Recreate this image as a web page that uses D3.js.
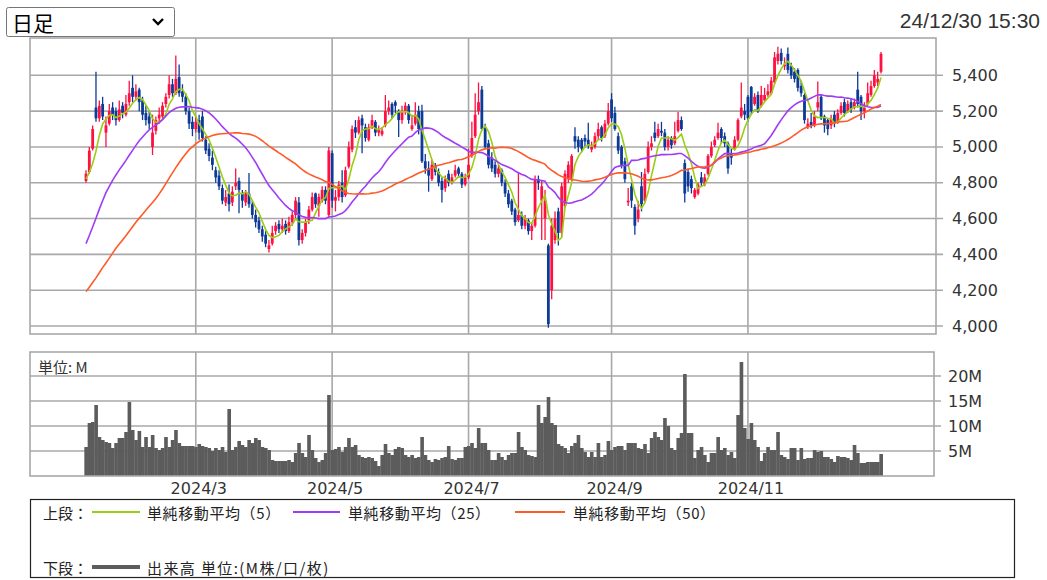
<!DOCTYPE html>
<html><head><meta charset="utf-8">
<script src="https://cdn.jsdelivr.net/npm/d3@7"></script>
<style>html,body{margin:0;padding:0;background:#fff;} svg{display:block}</style>
</head><body><svg id="c" width="1047" height="580"></svg>
<script>
// ---------- DATA ----------
const periodLabel = "日足";
const timestamp = "24/12/30 15:30";
const startDate = "2024-01-12";
const endDate = "2024-12-30";
const holidays = ["2024-02-12","2024-02-23","2024-03-20","2024-04-29","2024-05-03","2024-05-06",
  "2024-07-15","2024-08-12","2024-09-16","2024-09-23","2024-10-14","2024-11-04"];
// closes before the first visible day (only feed the moving averages)
const priorCloses = [3750,3800,3850,3800,3750,3800,3850,3800,3800,
  4000,4050,4100,4050,4000,4050,4100,
  4100,4050,4000,4050,4000,
  3900,3850,3800,3800,3850,
  3900,3950,3950,4000,4000,
  4300,4350,4400,4500,
  4550,4560,4580,4600,4610,
  4620,4630,4640,4650,
  4750,4800,4850,4820,4790];
const opens = [
4810,4860,4990,5220,5160,5240,5080,5130,5220,5200,
5150,5230,5180,5250,5330,5280,5320,5260,5190,5170,
5000,5090,5160,5170,5240,5290,5350,5300,5390,5310,
5280,5200,5140,5100,5150,5170,5040,4990,4940,4870,
4840,4770,4690,4740,4690,4780,4810,4740,4690,4740,
4680,4620,4590,4540,4510,4430,4460,4530,4570,4540,
4570,4530,4580,4620,4690,4480,4520,4590,4650,4740,
4670,4700,4760,4620,4965,4700,4720,4800,4730,4890,
4985,5110,5080,5160,5110,5040,5110,5140,5080,5070,
5120,5200,5240,5250,5200,5150,5200,5230,5100,5130,
5200,5200,4920,4880,4820,4900,4860,4810,4770,4850,
4800,4840,4880,4850,4790,4830,4950,5060,5200,5320,
5110,5020,4940,4900,4850,4870,4800,4740,4700,4650,
4590,4620,4560,4590,4530,4560,4820,4700,4600,4450,
4200,4480,4640,4520,4670,4820,4820,5060,5040,5040,
5050,5040,4985,5000,5060,5110,5060,5130,5265,5190,
5060,5000,4920,4690,4780,4665,4600,4780,4700,4860,
5000,5080,5060,5090,5080,5000,5050,5020,5090,5150,
4910,4860,4820,4720,4740,4830,4790,4850,4950,5010,
5050,5100,5060,5020,4960,4990,5040,5170,5200,5280,
5335,5240,5290,5230,5260,5290,5300,5360,5480,5525,
5450,5520,5450,5420,5430,5340,5290,5110,5140,5120,
5220,5280,5170,5150,5120,5180,5140,5190,5250,5200,
5250,5220,5320,5280,5200,5240,5290,5340,5360,5420];
const highs = [
4870,5000,5120,5420,5260,5280,5170,5240,5250,5220,
5260,5250,5290,5370,5400,5350,5330,5280,5230,5200,
5180,5170,5220,5250,5300,5400,5380,5510,5460,5350,
5300,5220,5170,5170,5180,5200,5060,5020,4980,4890,
4870,4790,4760,4790,4780,4880,4830,4760,4760,4855,
4700,4650,4610,4560,4530,4480,4560,4580,4590,4600,
4590,4610,4640,4720,4720,4540,4600,4670,4745,4745,
4740,4780,4780,5000,4980,4760,4810,4870,4890,5030,
5120,5150,5170,5180,5130,5130,5180,5150,5120,5110,
5290,5260,5250,5260,5210,5230,5250,5240,5180,5250,
5230,5235,4960,4920,4930,4910,4880,4830,4840,4870,
4850,4900,4890,4860,4850,4990,5140,5300,5360,5340,
5130,5040,4970,4920,4900,4880,4820,4760,4710,4660,
4860,4640,4620,4600,4580,4840,4840,4810,4760,4460,
4600,4640,4660,4800,4870,4920,4960,5110,5060,5050,
5070,5135,5030,5080,5135,5120,5150,5245,5300,5225,
5080,5010,4940,4770,4800,4680,4700,4860,4880,5030,
5060,5140,5130,5140,5100,5060,5060,5140,5195,5170,
4930,4880,4840,4770,4800,4860,4850,4960,5030,5060,
5135,5110,5080,5030,4990,5060,5160,5360,5240,5290,
5340,5300,5310,5340,5330,5350,5390,5530,5560,5550,
5500,5555,5470,5440,5440,5370,5300,5160,5190,5200,
5365,5290,5180,5160,5180,5200,5210,5250,5270,5260,
5270,5270,5420,5290,5250,5360,5370,5430,5420,5530];
const lows = [
4800,4850,4980,5140,5140,5150,5000,5120,5150,5120,
5140,5160,5170,5230,5250,5260,5200,5150,5120,5100,
4955,5070,5130,5150,5220,5270,5280,5290,5280,5250,
5180,5100,5060,5080,5040,5030,4960,4920,4870,4800,
4760,4680,4670,4640,4670,4760,4630,4660,4670,4660,
4600,4550,4520,4470,4440,4410,4450,4510,4520,4520,
4510,4520,4560,4600,4450,4460,4500,4570,4640,4660,
4610,4690,4680,4610,4660,4640,4700,4690,4720,4880,
4970,5050,5070,4965,5030,5030,5100,5060,5060,5060,
5110,5180,5160,5190,5055,5130,5180,5130,5090,5120,
5070,4910,4850,4750,4810,4840,4780,4690,4750,4780,
4790,4830,4830,4770,4780,4820,4940,5050,5180,5090,
4990,4880,4860,4830,4830,4780,4720,4660,4620,4560,
4580,4540,4540,4510,4480,4550,4760,4480,4480,3990,
4150,4460,4450,4500,4660,4800,4810,4990,4970,4970,
5000,4990,4970,4990,5040,5030,5050,5120,5140,5090,
4960,4880,4800,4670,4660,4510,4580,4640,4690,4850,
4980,5030,5050,5060,4980,4980,4990,5010,5080,5090,
4690,4750,4740,4710,4730,4780,4780,4840,4940,5000,
5040,5020,5000,4850,4900,4980,5030,5160,5150,5140,
5180,5230,5190,5220,5250,5280,5290,5350,5460,5460,
5430,5410,5380,5360,5310,5280,5130,5100,5105,5110,
5200,5150,5080,5065,5100,5110,5130,5180,5170,5190,
5190,5210,5220,5150,5160,5230,5280,5330,5340,5410];
const closes = [
4850,4980,5100,5160,5230,5170,5120,5200,5180,5150,
5210,5190,5240,5300,5280,5310,5250,5180,5150,5130,
5080,5150,5180,5230,5280,5350,5300,5380,5300,5280,
5200,5130,5100,5140,5080,5050,4980,4950,4900,4830,
4780,4700,4720,4680,4750,4800,4760,4700,4740,4680,
4620,4580,4540,4500,4460,4450,4520,4560,4540,4560,
4530,4580,4620,4700,4480,4520,4580,4650,4720,4680,
4720,4760,4700,4980,4700,4720,4790,4720,4870,5000,
5100,5080,5150,5120,5050,5110,5150,5080,5100,5090,
5200,5220,5180,5230,5150,5200,5230,5150,5120,5180,
5100,4920,4880,4840,4900,4860,4800,4760,4820,4800,
4830,4870,4850,4790,4830,4900,5050,5180,5250,5100,
5000,4900,4880,4850,4880,4800,4740,4680,4640,4580,
4620,4560,4600,4530,4560,4820,4800,4780,4700,4010,
4560,4600,4520,4780,4850,4900,4950,5030,5000,4990,
5030,5010,5000,5060,5100,5050,5130,5200,5160,5100,
4980,4900,4820,4700,4700,4560,4650,4680,4850,5000,
5020,5050,5100,5080,5000,5040,5010,5060,5150,5100,
4740,4780,4770,4760,4790,4800,4830,4950,5000,5040,
5080,5050,5020,4880,4940,5040,5150,5220,5180,5160,
5200,5280,5200,5290,5290,5310,5370,5500,5520,5480,
5460,5430,5400,5380,5330,5300,5150,5130,5120,5170,
5250,5160,5120,5100,5160,5130,5190,5230,5190,5240,
5210,5250,5240,5200,5220,5300,5340,5400,5380,5520];
// volume in millions
const volumes = [
5.8,10.6,10.8,14.2,7.8,7.2,6.8,6.6,5.6,6.6,
7.6,7.6,8.8,14.8,9.2,7.2,9.0,5.8,7.8,5.8,
8.2,5.6,5.2,5.6,7.8,5.8,7.2,9.2,6.6,6.0,
6.0,6.0,6.0,5.8,6.4,6.0,5.8,5.6,5.0,5.6,
5.2,5.8,4.8,13.4,5.2,5.8,7.0,6.2,5.8,7.2,
6.6,7.6,7.2,5.8,5.6,5.2,3.2,3.0,3.0,3.0,
3.0,3.2,2.8,4.6,6.6,4.6,3.8,8.2,5.2,3.6,
2.8,3.2,4.6,16.2,5.2,5.4,5.8,4.8,5.8,7.6,
5.8,6.2,4.2,3.8,3.6,3.8,3.6,3.0,2.0,4.2,
6.4,4.6,4.2,5.4,5.8,5.6,4.2,3.8,4.2,3.6,
3.8,7.8,4.2,3.2,2.8,3.4,3.2,3.6,3.8,6.0,
3.4,3.2,3.6,3.6,5.8,6.0,6.6,5.6,9.6,6.6,
6.6,5.2,3.2,3.2,4.6,3.8,3.2,4.2,4.6,4.6,
8.8,5.8,5.2,4.2,4.0,3.8,14.2,10.6,11.8,15.8,
10.6,10.2,6.4,6.0,5.6,4.6,6.0,6.6,8.2,5.6,
4.8,3.8,4.8,3.8,6.6,3.8,4.2,7.0,5.2,5.8,
6.0,6.0,5.2,6.6,6.6,6.6,5.6,5.4,6.4,4.6,
7.6,8.8,7.8,7.2,11.6,10.0,5.6,5.2,7.6,8.6,
20.4,8.6,8.6,3.6,5.2,5.8,4.2,2.8,4.6,4.6,
7.8,5.2,5.6,4.2,4.8,3.6,12.2,22.8,9.6,7.4,
10.6,7.2,5.8,3.0,4.6,5.8,5.2,5.2,8.8,4.2,
3.8,3.4,5.6,5.6,3.2,5.6,3.4,3.6,3.6,5.2,
4.8,5.0,3.8,3.8,3.4,2.8,4.0,3.8,3.8,3.6,
3.2,6.2,4.6,2.6,2.6,2.8,2.8,2.8,2.8,4.4];
const priceTicks = [4000,4200,4400,4600,4800,5000,5200,5400];
const volumeTicks = [5,10,15,20];
const monthLabels = ["2024/3","2024/5","2024/7","2024/9","2024/11"];
const maPeriods = [5,25,50];
const maNames = ["単純移動平均（5）","単純移動平均（25）","単純移動平均（50）"];
const volumeUnitLabel = "単位: M";
const legendUpper = "上段：";
const legendLower = "下段：";
const legendVolume = "出来高 単位:(M株/口/枚)";

// ---------- STYLE ----------
const C = {up:"#ff1040", down:"#0c3a98", ma:["#9acd14","#a03cf5","#ff5a28"], vol:"#5c5c5c",
  grid:"#a8a8a8", text:"#333"};
const FONT_NUM = "'DejaVu Sans', sans-serif";
const FONT_JP = "'Noto Sans CJK JP', 'Noto Sans', sans-serif";

// trading dates
function tradingDates(){
  const out=[]; const hol=new Set(holidays);
  let d=new Date(startDate+"T00:00:00Z"); const e=new Date(endDate+"T00:00:00Z");
  while(d<=e){ const wd=d.getUTCDay(); const s=d.toISOString().slice(0,10);
    if(wd!==0&&wd!==6&&!hol.has(s)) out.push(new Date(d)); d=new Date(d.getTime()+86400000);}
  return out;
}
const dates = tradingDates();
const N = closes.length;

const svg = d3.select("#c");
svg.append("rect").attr("width",1047).attr("height",580).attr("fill","#fff");

// layout
const P = {l:30, r:936, t:38, b:334};
const V = {l:30, r:934, t:352, b:476};
const x = d3.scaleLinear().domain([0,N-1]).range([86,881]);
const y = d3.scaleLinear().domain([4000,5600]).range([326,39.5]);
const vy = d3.scaleLinear().domain([0,20]).range([476,376]);

// month gridline indices
const monthIdx = monthLabels.map(lbl=>{
  const [yy,mm]=lbl.split("/").map(Number);
  return dates.findIndex(d=>d.getUTCFullYear()===yy && d.getUTCMonth()+1===mm);
});

// ----- price panel grid -----
const g = svg.append("g");
g.selectAll(".hg").data(priceTicks).join("line")
  .attr("x1",P.l).attr("x2",943).attr("y1",d=>y(d)).attr("y2",d=>y(d))
  .attr("stroke",C.grid).attr("stroke-width",1.6);
g.selectAll(".vg").data(monthIdx).join("line")
  .attr("x1",d=>x(d)).attr("x2",d=>x(d)).attr("y1",P.t).attr("y2",P.b)
  .attr("stroke",C.grid).attr("stroke-width",1.6);
g.append("rect").attr("x",P.l).attr("y",P.t).attr("width",P.r-P.l).attr("height",P.b-P.t)
  .attr("fill","none").attr("stroke",C.grid).attr("stroke-width",1.6);
g.selectAll(".yl").data(priceTicks).join("text")
  .attr("x",952).attr("y",d=>y(d)).attr("dominant-baseline","central")
  .attr("font-family",FONT_NUM).attr("font-size",16).attr("fill",C.text)
  .text(d=>d3.format(",")(d));

// ----- candles -----
const cg = svg.append("g");
for(let i=0;i<N;i++){
  const o=opens[i], c=closes[i], col = c>=o?C.up:C.down;
  cg.append("line").attr("x1",x(i)).attr("x2",x(i)).attr("y1",y(highs[i])).attr("y2",y(lows[i]))
    .attr("stroke",col).attr("stroke-width",1.3);
  const top=y(Math.max(o,c)), bot=y(Math.min(o,c));
  cg.append("rect").attr("x",x(i)-1.4).attr("width",2.8).attr("y",top).attr("height",Math.max(1,bot-top))
    .attr("fill",col);
}

// ----- moving averages -----
const full = priorCloses.concat(closes);
const off = priorCloses.length;
maPeriods.forEach((p,k)=>{
  const vals=[];
  for(let i=0;i<N;i++){ const end=off+i; const s=end-p+1; if(s<0) continue;
    vals.push([i, d3.mean(full.slice(s,end+1))]); }
  svg.append("path").datum(vals)
    .attr("d",d3.line().x(d=>x(d[0])).y(d=>y(d[1])))
    .attr("fill","none").attr("stroke",C.ma[k]).attr("stroke-width",1.6);
});

// ----- volume panel -----
const vg = svg.append("g");
vg.selectAll(".vh").data(volumeTicks).join("line")
  .attr("x1",V.l).attr("x2",941).attr("y1",d=>vy(d)).attr("y2",d=>vy(d))
  .attr("stroke",C.grid).attr("stroke-width",1.6);
vg.selectAll(".vv").data(monthIdx).join("line")
  .attr("x1",d=>x(d)).attr("x2",d=>x(d)).attr("y1",V.t).attr("y2",V.b)
  .attr("stroke",C.grid).attr("stroke-width",1.6);
const bw = x(1)-x(0);
vg.selectAll(".vb").data(volumes).join("rect")
  .attr("x",(d,i)=>x(i)-bw/2).attr("width",bw+0.3)
  .attr("y",d=>vy(d)).attr("height",d=>vy(0)-vy(d)).attr("fill",C.vol);
vg.append("rect").attr("x",V.l).attr("y",V.t).attr("width",V.r-V.l).attr("height",V.b-V.t)
  .attr("fill","none").attr("stroke",C.grid).attr("stroke-width",1.6);
vg.selectAll(".vl").data(volumeTicks).join("text")
  .attr("x",948).attr("y",d=>vy(d)).attr("dominant-baseline","central")
  .attr("font-family",FONT_NUM).attr("font-size",16).attr("fill",C.text)
  .text(d=>d+"M");
vg.append("text").attr("x",38).attr("y",366).attr("dominant-baseline","central")
  .attr("font-family",FONT_JP).attr("font-size",15).attr("fill",C.text).text(volumeUnitLabel);

// x labels
svg.selectAll(".xl").data(monthIdx).join("text")
  .attr("x",(d)=>x(d)+3).attr("y",494).attr("text-anchor","middle")
  .attr("font-family",FONT_NUM).attr("font-size",16).attr("fill",C.text)
  .text((d,i)=>monthLabels[i]);

// ----- legend -----
const lg = svg.append("g");
lg.append("rect").attr("x",30.5).attr("y",499.5).attr("width",984).attr("height",78)
  .attr("fill","#fff").attr("stroke","#222").attr("stroke-width",1.2);
const lt = (tx,xx,yy,ls)=>lg.append("text").attr("x",xx).attr("y",yy).attr("dominant-baseline","central")
  .attr("font-family",FONT_JP).attr("font-size",15).attr("fill","#222")
  .attr("letter-spacing",ls||0).text(tx);
lt(legendUpper,43,512);
const legX=[[92,140,147],[293,340,348],[515,565,573]];
maNames.forEach((nm,k)=>{
  lg.append("line").attr("x1",legX[k][0]).attr("x2",legX[k][1]).attr("y1",512).attr("y2",512)
    .attr("stroke",C.ma[k]).attr("stroke-width",2);
  lt(nm,legX[k][2],512,0.6);
});
lt(legendLower,43,567);
lg.append("line").attr("x1",92).attr("x2",140).attr("y1",567).attr("y2",567)
  .attr("stroke",C.vol).attr("stroke-width",4);
lt(legendVolume,147,567,1.4);

// ----- header -----
svg.append("rect").attr("x",6.5).attr("y",7.5).attr("width",168).attr("height",29).attr("rx",2)
  .attr("fill","#fff").attr("stroke","#767676").attr("stroke-width",1);
svg.append("text").attr("x",12).attr("y",22).attr("dominant-baseline","central")
  .attr("font-family",FONT_JP).attr("font-size",21).attr("fill","#000").text(periodLabel);
svg.append("path").attr("d","M153,19 L158,24 L163,19").attr("fill","none")
  .attr("stroke","#000").attr("stroke-width",2.4);
svg.append("text").attr("x",1040).attr("y",20).attr("dominant-baseline","central").attr("text-anchor","end")
  .attr("font-family","'Liberation Sans', Arial, sans-serif").attr("font-size",21).attr("fill",C.text)
  .text(timestamp);
</script></body></html>
